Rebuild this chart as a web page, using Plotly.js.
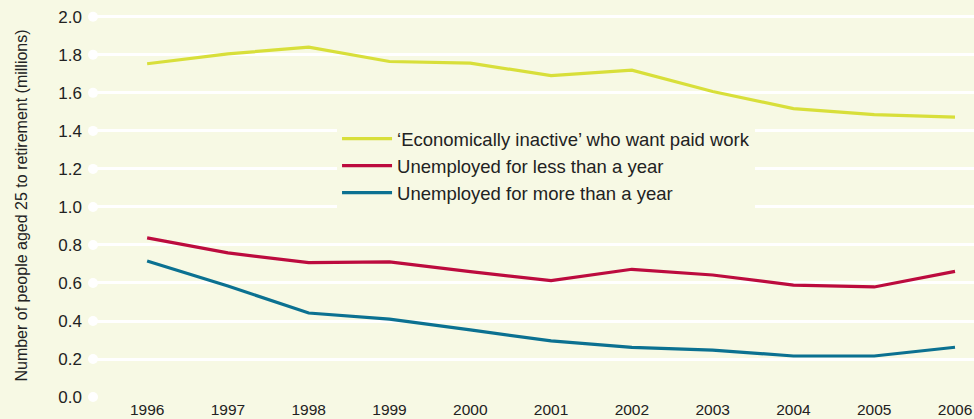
<!DOCTYPE html>
<html>
<head>
<meta charset="utf-8">
<script src="https://cdn.plot.ly/plotly-3.0.1.min.js"></script>
<style>html,body{margin:0;padding:0;background:#f7f9e4;}#chart{width:974px;height:419px;}</style>
</head>
<body>
<div id="chart"></div>
<script>
const years = [1996,1997,1998,1999,2000,2001,2002,2003,2004,2005,2006];
const inactiveWantWork = [1.753,1.805,1.840,1.765,1.756,1.691,1.719,1.607,1.517,1.486,1.472];
const unemployedLessYear = [0.837,0.758,0.707,0.711,0.660,0.612,0.672,0.642,0.589,0.579,0.661];
const unemployedMoreYear = [0.716,0.584,0.442,0.410,0.353,0.295,0.261,0.247,0.216,0.216,0.262];
const seriesNames = ["\u2018Economically inactive\u2019 who want paid work","Unemployed for less than a year","Unemployed for more than a year"];
const yTicks = [0,0.2,0.4,0.6,0.8,1.0,1.2,1.4,1.6,1.8,2.0];
const yTickLabels = ["0.0","0.2","0.4","0.6","0.8","1.0","1.2","1.4","1.6","1.8","2.0"];

const xRange = [1995.33, 2006.235];
const bg = "#f7f9e4";
const font = "Liberation Sans, Arial, Helvetica, sans-serif";

const traces = [
  {x: years, y: inactiveWantWork, name: seriesNames[0], type:"scatter", mode:"lines", line:{color:"#d8df3a", width:3.2}},
  {x: years, y: unemployedLessYear, name: seriesNames[1], type:"scatter", mode:"lines", line:{color:"#bc0b3e", width:3.2}},
  {x: years, y: unemployedMoreYear, name: seriesNames[2], type:"scatter", mode:"lines", line:{color:"#0b7191", width:3.2}},
  {x: yTicks.map(()=>xRange[0]), y: yTicks, type:"scatter", mode:"markers", showlegend:false, hoverinfo:"skip", cliponaxis:false,
   marker:{color:"#ffffff", size:10, line:{width:0}}}
];

const layout = {
  width: 974, height: 419,
  paper_bgcolor: bg, plot_bgcolor: bg,
  margin: {l:93, r:0, t:13.2, b:21, pad:0},
  font: {family: font, color:"#222222"},
  showlegend: true,
  legend: {
    x: 0.277, y: 0.722, xanchor:"left", yanchor:"top",
    bgcolor: bg, borderwidth:0,
    font:{size:18.5, color:"#222222", family: font},
    tracegroupgap:0, itemwidth:50
  },
  xaxis: {
    range: xRange, tickmode:"array", tickvals: years, ticktext: years.map(String),
    showgrid:false, zeroline:false, showline:false, ticks:"",
    tickfont:{size:15.5, color:"#222222"}, ticklabelstandoff:0, fixedrange:true
  },
  yaxis: {
    range:[-0.005, 2.02], tickmode:"array", tickvals: yTicks, ticktext: yTickLabels,
    showgrid:true, gridcolor:"#ffffff", gridwidth:3, zeroline:false, showline:false, ticks:"",
    tickfont:{size:17, color:"#222222"}, ticklabelstandoff:10, fixedrange:true,
    title:{text:"Number of people aged 25 to retirement (millions)", font:{size:16, color:"#222222"}, standoff:26}
  }
};

Plotly.newPlot("chart", traces, layout, {displayModeBar:false, staticPlot:true});
</script>
</body>
</html>
